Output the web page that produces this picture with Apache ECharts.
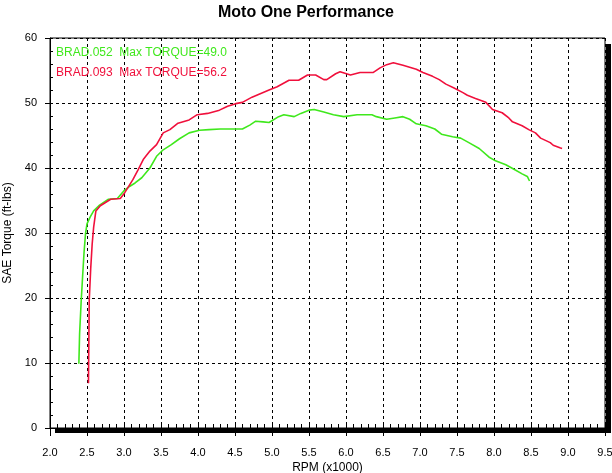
<!DOCTYPE html>
<html>
<head>
<meta charset="utf-8">
<script src="https://cdn.jsdelivr.net/npm/echarts@6/dist/echarts.min.js"></script>
<style>html,body{margin:0;padding:0;background:#fff}#c{width:612px;height:473px}</style>
</head>
<body>
<div id="c"></div>
<script>
var xTicks = ['2.0','2.5','3.0','3.5','4.0','4.5','5.0','5.5','6.0','6.5','7.0','7.5','8.0','8.5','9.0','9.5'];
var yTicks = [0,10,20,30,40,50,60];

var rpm052 = [2.39,2.40,2.42,2.44,2.46,2.48,2.50,2.54,2.59,2.66,2.79,2.91,3.00,3.08,3.15,3.24,3.35,3.44,3.53,3.64,3.75,3.88,4.02,4.15,4.30,4.42,4.60,4.70,4.78,4.88,4.96,5.09,5.16,5.30,5.39,5.50,5.57,5.70,5.83,5.97,6.15,6.35,6.41,6.55,6.66,6.77,6.86,6.95,7.08,7.20,7.29,7.44,7.55,7.66,7.80,7.93,8.02,8.16,8.27,8.38,8.45,8.48];
var tq052  = [9.9,14.5,19.2,23.2,27.0,29.9,31.4,32.4,33.4,34.2,35.2,35.3,36.5,37.2,37.7,38.5,40.0,41.8,42.8,43.6,44.5,45.4,45.8,45.9,46.0,46.0,46.0,46.6,47.2,47.1,47.0,47.9,48.2,47.9,48.4,48.9,49.0,48.6,48.2,47.9,48.2,48.2,47.9,47.5,47.7,47.9,47.5,46.8,46.5,46.0,45.2,44.8,44.6,43.9,43.0,41.7,41.1,40.5,39.8,39.1,38.7,38.0];

var rpm093 = [2.52,2.53,2.55,2.57,2.59,2.62,2.68,2.82,2.95,3.01,3.12,3.19,3.26,3.35,3.44,3.53,3.62,3.73,3.88,3.99,4.13,4.29,4.40,4.51,4.60,4.73,4.96,5.07,5.23,5.36,5.48,5.59,5.70,5.74,5.86,5.92,6.06,6.19,6.37,6.46,6.55,6.64,6.77,6.86,6.95,7.04,7.17,7.26,7.35,7.46,7.58,7.64,7.75,7.89,7.98,8.11,8.20,8.25,8.38,8.47,8.56,8.63,8.76,8.80,8.89,8.92];
var tq093  = [6.9,19.6,24.5,28.3,30.9,33.4,34.2,35.2,35.3,36.2,38.2,39.7,41.3,42.6,43.6,45.4,45.9,46.9,47.4,48.2,48.4,48.9,49.5,49.9,50.1,50.9,52.0,52.5,53.5,53.5,54.3,54.3,53.6,53.6,54.5,54.8,54.3,54.7,54.7,55.4,55.9,56.2,55.8,55.5,55.2,54.7,54.1,53.6,52.9,52.3,51.6,51.2,50.7,50.1,49.0,48.5,47.7,47.1,46.5,45.9,45.4,44.6,43.9,43.5,43.1,43.0];

var names = ['BRAD.052', 'BRAD.093'];
var colors = ['#3fe81c', '#f0103c'];

function pairs(xs, ys) { return xs.map(function (x, i) { return [x, ys[i]]; }); }
function maxOf(a) { return Math.max.apply(null, a); }

var font = 'Liberation Sans, Arial, sans-serif';
var chart = echarts.init(document.getElementById('c'), null, {renderer: 'canvas'});
chart.setOption({
  animation: false,
  backgroundColor: '#fff',
  title: {
    text: 'Moto One Performance', left: 'center', top: 0,
    textStyle: {fontFamily: font, fontSize: 16, fontWeight: 'bold', color: '#000'}
  },
  grid: {left: 50, right: 7, top: 38, bottom: 45, containLabel: false, outerBoundsMode: 'none',
         show: true, borderColor: '#000', borderWidth: 1, backgroundColor: '#fff'},
  xAxis: [{
    type: 'value', min: 2, max: 9.5, interval: 0.5, position: 'bottom',
    name: 'RPM (x1000)', nameLocation: 'middle', nameGap: 34, nameMoveOverlap: false,
    nameTextStyle: {fontFamily: font, fontSize: 12, color: '#000'},
    axisLine: {lineStyle: {color: '#000', width: 1}},
    axisTick: {length: 8, lineStyle: {color: '#000'}},
    axisLabel: {margin: 19, fontFamily: font, fontSize: 11, color: '#000',
      formatter: function (v) { var s = v.toFixed(1); return xTicks.indexOf(s) >= 0 ? s : ''; }},
    splitLine: {show: true, lineStyle: {color: '#000', type: [3, 3], width: 1}}
  }, {
    type: 'value', min: 2, max: 9.5, interval: 0.1, position: 'bottom',
    axisLine: {show: false},
    axisTick: {inside: true, length: 4, lineStyle: {color: '#000'}},
    axisLabel: {show: false}, splitLine: {show: false}
  }],
  yAxis: [{
    type: 'value', min: 0, max: 60, interval: 10, position: 'left',
    name: 'SAE Torque (ft-lbs)', nameLocation: 'middle', nameGap: 33,
    nameTextStyle: {fontFamily: font, fontSize: 12, color: '#000'},
    axisLine: {show: true, lineStyle: {color: '#000', width: 1}},
    axisTick: {show: true, length: 5, lineStyle: {color: '#000'}},
    axisLabel: {margin: 13, fontFamily: font, fontSize: 11, color: '#000',
      formatter: function (v) { return yTicks.indexOf(v) >= 0 ? String(v) : ''; }},
    splitLine: {show: true, lineStyle: {color: '#000', type: [3, 3], width: 1}}
  }, {
    type: 'value', min: 0, max: 60, interval: 2, position: 'left',
    axisLine: {show: false},
    axisTick: {show: true, inside: true, length: 3, lineStyle: {color: '#000'}},
    axisLabel: {show: false}, splitLine: {show: false}
  }],
  graphic: [
    {type: 'rect', shape: {x: 55, y: 429, width: 556, height: 4}, style: {fill: '#000'}, z: 100},
    {type: 'rect', shape: {x: 606, y: 44, width: 5, height: 389}, style: {fill: '#000'}, z: 100},
    {type: 'text', x: 56, y: 53, z: 100, style: {text: names[0] + '  Max TORQUE=' + maxOf(tq052).toFixed(1), fill: colors[0], font: '12px ' + font, verticalAlign: 'middle'}},
    {type: 'text', x: 56, y: 73, z: 100, style: {text: names[1] + '  Max TORQUE=' + maxOf(tq093).toFixed(1), fill: colors[1], font: '12px ' + font, verticalAlign: 'middle'}}
  ],
  series: [
    {name: names[0], type: 'line', data: pairs(rpm052, tq052), showSymbol: false, symbol: 'none',
     lineStyle: {color: colors[0], width: 1.6}, itemStyle: {color: colors[0]}, z: 5},
    {name: names[1], type: 'line', data: pairs(rpm093, tq093), showSymbol: false, symbol: 'none',
     lineStyle: {color: colors[1], width: 1.6}, itemStyle: {color: colors[1]}, z: 6}
  ]
});
</script>
</body>
</html>
